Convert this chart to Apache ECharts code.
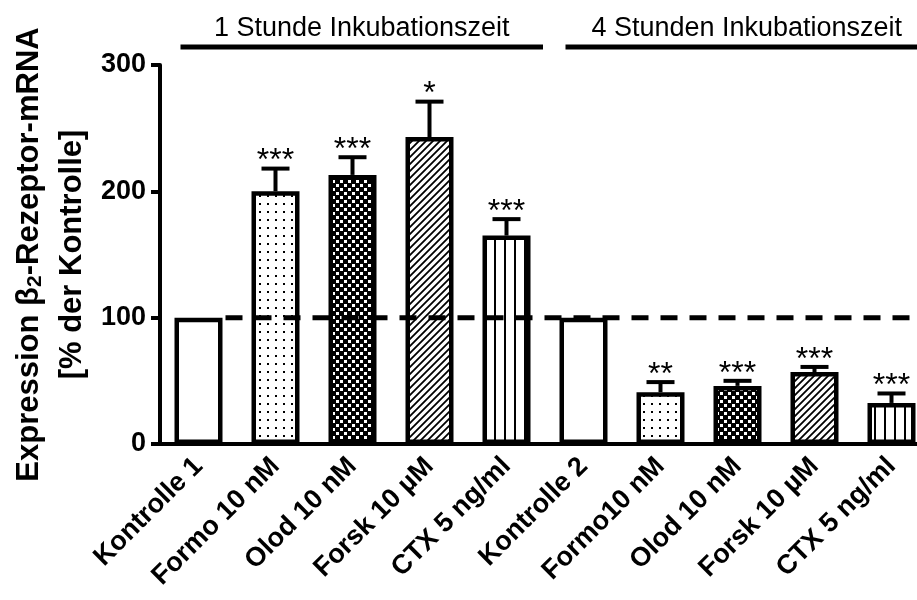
<!DOCTYPE html>
<html lang="de">
<head>
<meta charset="UTF-8">
<title>Expression β2-Rezeptor-mRNA</title>
<script src="https://cdn.jsdelivr.net/npm/echarts@6/dist/echarts.min.js"></script>
<style>html,body{margin:0;padding:0;background:#fff}</style>
</head>
<body>
<div id="main" style="width:917px;height:600px"></div>
<script>
// Daten (Mittelwert + oberer Fehlerbalken)
var categories = ['Kontrolle 1', 'Formo 10 nM', 'Olod 10 nM', 'Forsk 10 µM', 'CTX 5 ng/ml',
                  'Kontrolle 2', 'Formo10 nM', 'Olod 10 nM', 'Forsk 10 µM', 'CTX 5 ng/ml'];
var means = [100, 200, 213, 243, 165, 100, 41, 46, 57, 32.5];
var errors = [0, 18, 14, 28, 13, 0, 8, 4, 4, 7.5];
var stars = ['', '***', '***', '*', '***', '', '**', '***', '***', '***'];
var fills = ['none', 'dots', 'checker', 'hatch', 'stripes', 'none', 'dots', 'checker', 'hatch', 'stripes'];
var groupLabels = ['1 Stunde Inkubationszeit', '4 Stunden Inkubationszeit'];
var groupFrom = [0, 5];
var groupTo = [4, 9];
var yTicks = [0, 100, 200, 300];
var controlLevel = 100;

var FONT = '"Liberation Sans", Arial, sans-serif';

// Füllmuster als kleine Canvas-Kacheln
function makePattern(kind) {
    if (kind === 'none') return '#ffffff';
    var c = document.createElement('canvas');
    var ctx = c.getContext('2d');
    if (kind === 'dots') {
        c.width = 8; c.height = 8;
        ctx.fillStyle = '#fff'; ctx.fillRect(0, 0, 8, 8);
        ctx.fillStyle = '#000'; ctx.fillRect(3, 3, 2, 2);
    } else if (kind === 'checker') {
        c.width = 8; c.height = 8;
        ctx.fillStyle = '#000'; ctx.fillRect(0, 0, 8, 8);
        ctx.fillStyle = '#fff';
        ctx.fillRect(0, 0, 3, 3);
        ctx.fillRect(4, 4, 3, 3);
    } else if (kind === 'hatch') {
        c.width = 7; c.height = 7;
        ctx.fillStyle = '#fff'; ctx.fillRect(0, 0, 7, 7);
        ctx.strokeStyle = '#000'; ctx.lineWidth = 1.8;
        ctx.beginPath();
        ctx.moveTo(0, 7); ctx.lineTo(7, 0);
        ctx.moveTo(-1, 1); ctx.lineTo(1, -1);
        ctx.moveTo(6, 8); ctx.lineTo(8, 6);
        ctx.stroke();
    } else if (kind === 'stripes') {
        c.width = 10; c.height = 10;
        ctx.fillStyle = '#fff'; ctx.fillRect(0, 0, 10, 10);
        ctx.fillStyle = '#000'; ctx.fillRect(4, 0, 2, 10);
    }
    return { image: c, repeat: 'repeat' };
}

var myChart = echarts.init(document.getElementById('main'));

var barData = means.map(function (v, i) {
    return { value: v, itemStyle: { color: makePattern(fills[i]) } };
});

var option = {
    backgroundColor: '#fff',
    animation: false,
    grid: { left: 160, top: 65, width: 770, height: 379, outerBoundsMode: 'none' },
    xAxis: {
        type: 'category',
        data: categories,
        axisLine: { lineStyle: { color: '#000', width: 4 } },
        axisTick: { show: false },
        axisLabel: {
            rotate: 45, margin: 18, interval: 0,
            color: '#000', fontFamily: FONT, fontWeight: 'bold', fontSize: 27
        }
    },
    yAxis: {
        type: 'value',
        min: yTicks[0],
        max: yTicks[yTicks.length - 1],
        interval: yTicks[1] - yTicks[0],
        axisLine: { show: true, lineStyle: { color: '#000', width: 4 } },
        axisTick: { show: true, length: 9, lineStyle: { color: '#000', width: 4 } },
        splitLine: { show: false },
        axisLabel: { color: '#000', fontFamily: FONT, fontWeight: 'bold', fontSize: 27, margin: 14 },
        name: '{t|Expression β}{s|2}{t|-Rezeptor-mRNA}\n{t|[% der Kontrolle]}',
        nameLocation: 'middle',
        nameRotate: 90,
        nameGap: 66,
        nameTextStyle: {
            align: 'center',
            rich: {
                t: { fontFamily: FONT, fontWeight: 'bold', fontSize: 31, color: '#000', lineHeight: 43 },
                s: { fontFamily: FONT, fontWeight: 'bold', fontSize: 21, color: '#000', lineHeight: 43, padding: [12, 0, 0, 0] }
            }
        }
    },
    series: [
        {
            type: 'bar',
            data: barData,
            barWidth: 48,
            itemStyle: { borderColor: '#000', borderWidth: 4.5 },
            z: 2
        },
        {
            // Fehlerbalken + Signifikanzsterne
            type: 'custom',
            data: means.map(function (m, i) { return [i, m, errors[i]]; }),
            z: 4,
            renderItem: function (params, api) {
                var i = params.dataIndex;
                var e = api.value(2);
                if (!e && !stars[i]) return null;
                var p0 = api.coord([api.value(0), api.value(1)]);
                var p1 = api.coord([api.value(0), api.value(1) + e]);
                var children = [
                    { type: 'line', shape: { x1: p0[0], y1: p0[1], x2: p1[0], y2: p1[1] },
                      style: { stroke: '#000', lineWidth: 4 } },
                    { type: 'line', shape: { x1: p1[0] - 14, y1: p1[1], x2: p1[0] + 14, y2: p1[1] },
                      style: { stroke: '#000', lineWidth: 4 } }
                ];
                if (stars[i]) {
                    children.push({
                        type: 'text',
                        style: { x: p1[0], y: p1[1] - 7, text: stars[i], align: 'center', verticalAlign: 'middle',
                                 font: '32px ' + FONT, fill: '#000' }
                    });
                }
                return { type: 'group', children: children };
            }
        },
        {
            // gestrichelte Kontrolllinie bei 100 %
            type: 'custom',
            data: [[0, controlLevel]],
            z: 5,
            renderItem: function (params, api) {
                var p = api.coord([api.value(0), api.value(1)]);
                var cs = params.coordSys;
                return {
                    type: 'line',
                    shape: { x1: p[0] + 27, y1: p[1], x2: cs.x + cs.width, y2: p[1] },
                    style: { stroke: '#000', lineWidth: 5, lineDash: [17, 12] }
                };
            }
        },
        {
            // Gruppenbeschriftung oben
            type: 'custom',
            data: groupFrom.map(function (f, i) { return [f, yTicks[yTicks.length - 1], groupTo[i]]; }),
            z: 5,
            renderItem: function (params, api) {
                var i = params.dataIndex;
                var a = api.coord([api.value(0), api.value(1)]);
                var b = api.coord([api.value(2), api.value(1)]);
                var band = api.size([1, 0])[0];
                var x0 = a[0] - 18, x1 = b[0] + band / 2 - 2;
                var y = params.coordSys.y - 18;
                return {
                    type: 'group',
                    children: [
                        { type: 'line', shape: { x1: x0, y1: y, x2: x1, y2: y },
                          style: { stroke: '#000', lineWidth: 5 } },
                        { type: 'text',
                          style: { x: (x0 + x1) / 2, y: y - 18, text: groupLabels[i], align: 'center',
                                   verticalAlign: 'middle', font: '27px ' + FONT, fill: '#000' } }
                    ]
                };
            }
        }
    ]
};

myChart.setOption(option);
</script>
</body>
</html>
